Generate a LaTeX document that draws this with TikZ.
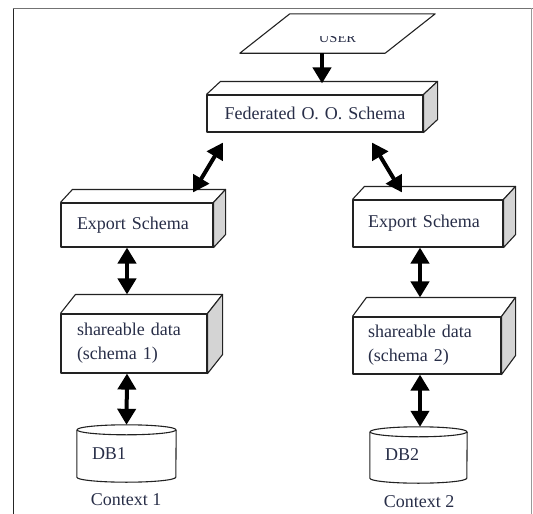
\documentclass[tikz,border=0pt]{standalone}
\usepackage{fontspec}
\setmainfont{Liberation Serif}
\usetikzlibrary{arrows.meta}

\definecolor{ink}{RGB}{40,46,72}
\definecolor{edge}{RGB}{34,34,34}
\definecolor{side}{RGB}{212,212,212}

% top and right faces of a box whose front face is node #1, depth (#2 right, #3 up)
\newcommand\drawslab[3]{%
  \draw[boxline] (#1.north west) -- ++(#2,-#3) -- ([shift={(#2,-#3)}]#1.north east) -- (#1.north east);
  \draw[boxline, fill=side] (#1.north east) -- ([shift={(#2,-#3)}]#1.north east)
    -- ([shift={(#2,-#3)}]#1.south east) -- (#1.south east) -- cycle;}

% database drum around node #1, horizontal radius #2
\newcommand\drawdrum[2]{%
  \draw[boxline] (#1.north) ellipse[x radius=#2, y radius=5pt];
  \draw[boxline] (#1.north west) -- (#1.south west)
    arc[start angle=180, end angle=360, x radius=#2, y radius=5pt] -- (#1.north east);}

\begin{document}
\begin{tikzpicture}[x=1pt, y=-1pt,
  boxline/.style={draw=edge, line width=1.1pt, line join=round},
  slabbox/.style={boxline, rectangle, fill=white, inner xsep=16pt, inner ysep=0pt,
    align=left, text=ink, font=\fontsize{18}{24}\selectfont},
  drumbox/.style={rectangle, inner xsep=15pt, inner ysep=0pt, align=left,
    text=ink, font=\fontsize{18}{24}\selectfont},
  captext/.style={inner sep=0pt, text=ink, font=\fontsize{18}{24}\selectfont},
  duplex/.style={draw=black, line width=4pt,
    {Triangle[length=16pt,width=18pt]}-{Triangle[length=16pt,width=18pt]}},
  simplex/.style={draw=black, line width=4pt, -{Triangle[length=16pt,width=18pt]}}]

\useasboundingbox (0,0) rectangle (533,514);

% frame
\draw[black!85, line width=1.6pt] (13.5,8) -- (13.5,514);
\draw[black!55, line width=1.6pt] (12.7,8.5) -- (533,8.5);
\draw[black!40, line width=1.2pt] (531.5,8) -- (531.5,514);

% user input (label partly cut off at the top)
\begin{scope}
  \clip (0,36) rectangle (533,60);
  \node[rectangle, minimum width=145pt, minimum height=39pt, inner sep=0pt,
    text height=17pt, text depth=0pt, text=ink, font=\fontsize{14.5}{16}\selectfont]
    (user) at (337.5,33.5) {USER};
\end{scope}
\draw[boxline] ([xshift=-25pt]user.south west) -- ([xshift=25pt]user.north west)
  -- ([xshift=25pt]user.north east) -- ([xshift=-25pt]user.south east) -- cycle;

% schema boxes
\node[slabbox, align=center, text width=184pt, minimum height=37pt] (fed) at (315,113.5)
  {Federated O. O. Schema};
\node[slabbox, text width=120pt, minimum height=44pt] (expL) at (137,225) {Export Schema};
\node[slabbox, inner xsep=15pt, text width=120pt, minimum height=47pt] (expR) at (428,223.5)
  {Export Schema};
\node[slabbox, text width=114pt, minimum height=59pt] (shL) at (134,343.5)
  {shareable data\\(schema 1)};
\node[slabbox, inner xsep=15pt, text width=118pt, minimum height=57pt] (shR) at (427,345.5)
  {shareable data\\(schema 2)};

\drawslab{fed}{14}{13}
\drawslab{expL}{12}{13}
\drawslab{expR}{12}{13}
\drawslab{shL}{15}{19}
\drawslab{shR}{14}{19}

% databases
\node[drumbox, text width=69pt, minimum height=47pt] (db1) at (126.5,453.5) {DB1};
\node[drumbox, text width=67pt, minimum height=46pt] (db2) at (418.5,455) {DB2};
\drawdrum{db1}{49.5pt}
\drawdrum{db2}{48.5pt}

\node[captext] (ctx1) at (126,500) {Context 1};
\node[captext] (ctx2) at (419,502) {Context 2};

% connectors
\draw[simplex] ([xshift=-15.5pt]user.south) -- ([xshift=7pt,yshift=11pt]fed.north);
\draw[duplex] ([xshift=-92pt,yshift=-10pt]fed.south) -- ([xshift=56pt,yshift=10pt]expL.north);
\draw[duplex] ([xshift=57pt,yshift=-10pt]fed.south) -- ([xshift=-26pt,yshift=7pt]expR.north);
\draw[duplex] ([xshift=-10pt]expL.south) -- ([xshift=-7pt,yshift=19pt]shL.north);
\draw[duplex] ([xshift=-8pt]expR.south) -- ([xshift=-7pt,yshift=19pt]shR.north);
\draw[duplex] ([xshift=-7pt]shL.south) -- ([yshift=5pt]db1.north);
\draw[duplex] ([xshift=-7pt]shR.south) -- ([xshift=1.5pt,yshift=5pt]db2.north);

\end{tikzpicture}
\end{document}
